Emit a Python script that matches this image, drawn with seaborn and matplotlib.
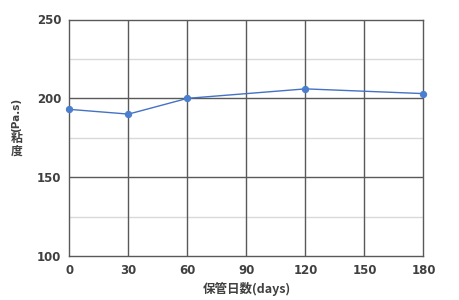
import matplotlib
matplotlib.use("Agg")
import matplotlib.pyplot as plt
import seaborn as sns
import pandas as pd

days = [0, 30, 60, 120, 180]
viscosity = [193, 190, 200, 206, 203]
x_ticks = [0, 30, 60, 90, 120, 150, 180]
y_ticks = [100, 150, 200, 250]
x_label = "保管日数(days)"
y_label_unit = "(Pa.s)"
y_label_cjk = ["粘", "度"]

sns.set_style("white")
plt.rcParams['font.family'] = ['Noto Sans CJK JP', 'DejaVu Sans']

df = pd.DataFrame({"days": days, "viscosity": viscosity})

fig = plt.figure(figsize=(4.6, 3.0), dpi=100)
ax = fig.add_axes([69.5/460, 1-256/300, (423.5-69.5)/460, (256-19.5)/300])

for yv in [125, 175, 225]:
    ax.axhline(yv, color="#d9d9d9", lw=1.0, zorder=0)
for yv in [150, 200]:
    ax.axhline(yv, color="#595959", lw=1.0, zorder=0)
for xv in x_ticks[1:-1]:
    ax.axvline(xv, color="#595959", lw=1.0, zorder=0)

sns.lineplot(data=df, x="days", y="viscosity", ax=ax, color="#4472c4", lw=1.0,
             marker="o", markersize=4.5, markerfacecolor="#4a7fcf",
             markeredgecolor="#4a7fcf", clip_on=False, zorder=3)

ax.set_xlim(0, 180)
ax.set_ylim(100, 250)
ax.set_xticks(x_ticks)
ax.set_yticks(y_ticks)
ax.tick_params(axis="both", length=0, labelsize=8.5, labelcolor="#404040", pad=6)
for lab in ax.get_xticklabels() + ax.get_yticklabels():
    lab.set_fontweight("bold")
    lab.set_family(['DejaVu Sans'])
for s in ax.spines.values():
    s.set_color("#595959")
    s.set_linewidth(1.0)

ax.set_xlabel(x_label, fontsize=9, fontweight="bold", color="#404040", labelpad=3)
ax.set_ylabel("")

fig.text(16.5/460, 1-114.5/300, y_label_unit, rotation=90, ha="center", va="center",
         fontsize=7.5, fontweight="bold", color="#404040", family=['DejaVu Sans'])
for i, ch in enumerate(y_label_cjk):
    fig.text(16.5/460, 1-(138 + 13*i)/300, ch, rotation=0, ha="center", va="center",
             fontsize=8.5, fontweight="bold", color="#404040")

fig.savefig("out.png", dpi=100)
